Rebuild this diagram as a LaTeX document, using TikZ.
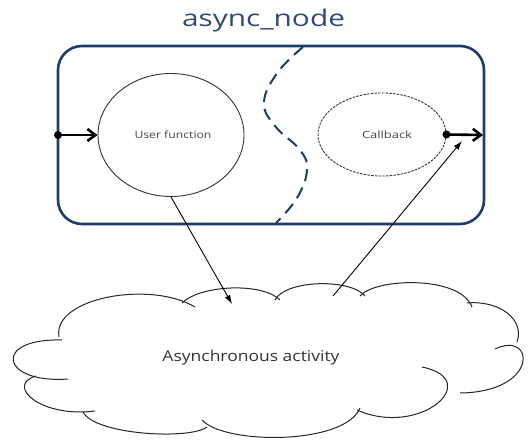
\documentclass[tikz,border=0pt]{standalone}
\usepackage{fontspec}
\usepackage{graphicx}
\setmainfont{Open Sans}
\usetikzlibrary{shapes.geometric,arrows.meta}
\definecolor{boxblue}{RGB}{31,59,106}
\definecolor{titleblue}{RGB}{50,74,116}
\definecolor{txtgrey}{RGB}{70,70,70}
\tikzset{
  frame/.style={draw=boxblue, line width=2.6pt, rounded corners=24pt},
  divider/.style={draw=boxblue, line width=2pt, dash pattern=on 12pt off 7pt},
  procsolid/.style={ellipse, draw=black!80, line width=0.9pt, inner sep=0pt},
  procdash/.style={ellipse, draw=black!80, line width=0.9pt, inner sep=0pt, dash pattern=on 2.5pt off 1.2pt},
  thickarrow/.style={line width=2.6pt, -{Straight Barb[length=8pt,width=12pt,line width=2.6pt]}},
  thinarrow/.style={line width=0.9pt, -{Latex[length=9pt,width=6pt]}},
  puff/.style={draw=black!85, line width=1pt},
  dotmark/.style={circle, fill=black, inner sep=0pt, minimum size=8pt},
}
\begin{document}
\begin{tikzpicture}[x=1pt,y=-1pt]
\useasboundingbox (0,0) rectangle (529,441);
% title
\node[text=titleblue, inner sep=0pt] (title) at (263.5,21) {\resizebox{163pt}{\height}{\fontsize{23}{26}\selectfont async\_node}};
% frame
\draw[frame] (58,46) rectangle (484,224);
% divider
\draw[divider] plot[smooth, tension=0.7] coordinates {(303,47) (278,72) (264,102) (275,126) (300,150) (307,170) (297,198) (276,223)};
% ellipses
\node[procsolid, minimum width=146pt, minimum height=123pt] (uf) at (171,135) {};
\node[text=txtgrey, inner sep=0pt] (uft) at (173,135) {\resizebox{77pt}{\height}{\fontsize{10}{12}\selectfont User function}};
\node[procdash, minimum width=128pt, minimum height=83pt] (cb) at (382,134.5) {};
\node[text=txtgrey, inner sep=0pt] (cbt) at (387,135) {\resizebox{50pt}{\height}{\fontsize{10}{12}\selectfont Callback}};
% input / output
\node[dotmark] (indot) at (58,135) {};
\draw[thickarrow] (indot.center) -- (uf.west);
\node[dotmark] (outdot) at (cb.east) {};
\coordinate (outend) at (483,135);
\draw[thickarrow] (outdot.center) -- (outend);
% cloud
\draw[puff] (59,337) .. controls (52,298) and (150,280) .. (195,307);
\draw[puff] (182,303) .. controls (200,285) and (262,282) .. (280,300);
\draw[puff] (275,300) .. controls (285,280) and (350,278) .. (365,296);
\draw[puff] (360,296) .. controls (375,278) and (460,275) .. (472,307);
\draw[puff] (467,303) .. controls (500,300) and (525,320) .. (517,342);
\draw[puff] (495,349) .. controls (535,330) and (540,392) .. (460,393);
\draw[puff] (422,367) .. controls (485,380) and (420,438) .. (357,410);
\draw[puff] (360,408) .. controls (345,445) and (225,445) .. (202,420);
\draw[puff] (207,427) .. controls (190,440) and (95,435) .. (83,412);
\draw[puff] (95,411) .. controls (40,418) and (5,385) .. (36,376);
\draw[puff] (68,379) .. controls (0,384) and (-8,338) .. (62,340);
\node[text=black!80, inner sep=0pt] (act) at (251,358) {\resizebox{177pt}{\height}{\fontsize{15}{18}\selectfont Asynchronous activity}};
% connectors to/from the cloud
\coordinate (cloudin) at (232,304);
\coordinate (cloudout) at (333,296);
\coordinate (cbin) at (462,141);
\draw[thinarrow] (uf.south) -- (cloudin);
\draw[thinarrow] (cloudout) -- (cbin);
\end{tikzpicture}
\end{document}
